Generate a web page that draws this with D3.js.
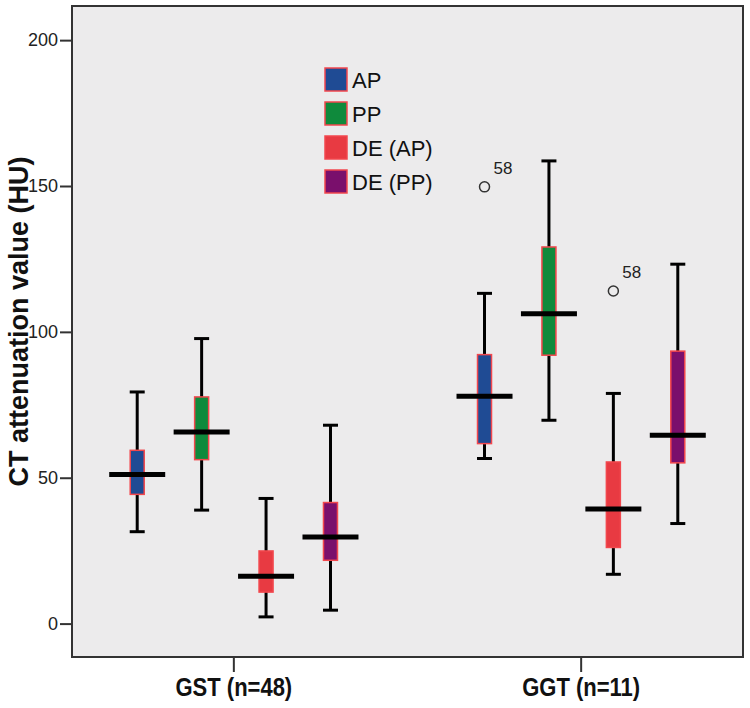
<!DOCTYPE html>
<html>
<head>
<meta charset="utf-8">
<script src="https://cdn.jsdelivr.net/npm/d3@7"></script>
<style>
  html, body { margin: 0; padding: 0; background: #ffffff; }
  svg { display: block; }
</style>
</head>
<body>
<svg id="chart" width="750" height="708"></svg>
<script>
// ---------- data ----------
const groups = ["GST (n=48)", "GGT (n=11)"];
const series = ["AP", "PP", "DE (AP)", "DE (PP)"];
const seriesColors = ["#1f4b94", "#0f8a3c", "#e83a42", "#7a0f6c"];
// per group: values for [AP, PP, DE (AP), DE (PP)]
const whiskerLow  = [[31.5, 38.9, 2.3, 4.6],   [56.6, 69.7, 16.9, 34.3]];
const q1          = [[44.3, 56.2, 10.8, 21.7], [61.7, 92.0, 26.1, 55.1]];
const medians     = [[51.1, 65.7, 16.2, 29.7], [77.9, 106.2, 39.3, 64.6]];
const q3          = [[59.4, 77.7, 24.9, 41.5], [92.2, 129.1, 55.4, 93.4]];
const whiskerHigh = [[79.4, 97.7, 42.9, 68.0], [113.2, 158.6, 78.9, 123.2]];
const outlierGroup  = ["GGT (n=11)", "GGT (n=11)"];
const outlierSeries = ["AP", "DE (AP)"];
const outlierValues = [149.7, 114.0];
const outlierLabels = ["58", "58"];
const yTicks = [0, 50, 100, 150, 200];
const yTitle = "CT attenuation value (HU)";

// ---------- layout ----------
const W = 750, H = 708;
const margin = {top: 6, right: 7, bottom: 51, left: 72};
const svg = d3.select("#chart");

const x0 = d3.scaleBand().domain(groups)
  .range([margin.left, W - margin.right])
  .paddingInner(0.258).paddingOuter(0.095);
const x1 = d3.scaleBand().domain(series).range([0, x0.bandwidth()]).padding(0);
const y = d3.scaleLinear().domain([-11.45, 211.7]).range([H - margin.bottom, margin.top]);
const color = d3.scaleOrdinal().domain(series).range(seriesColors);

// plot background
svg.append("rect")
  .attr("x", margin.left).attr("y", margin.top)
  .attr("width", W - margin.left - margin.right)
  .attr("height", H - margin.top - margin.bottom)
  .attr("fill", "#ecebec");

// boxes
const boxW = 14, capW = 15, medW = 56;
const rows = [];
groups.forEach((g, gi) => series.forEach((s, si) => rows.push({
  g, s, lo: whiskerLow[gi][si], q1: q1[gi][si], med: medians[gi][si],
  q3: q3[gi][si], hi: whiskerHigh[gi][si]
})));
const cx = d => x0(d.g) + x1(d.s) + x1.bandwidth() / 2;

const box = svg.append("g").selectAll("g").data(rows).join("g");
box.append("line")
  .attr("x1", cx).attr("x2", cx)
  .attr("y1", d => y(d.lo)).attr("y2", d => y(d.hi))
  .attr("stroke", "#000").attr("stroke-width", 3);
box.append("line")
  .attr("x1", d => cx(d) - capW / 2).attr("x2", d => cx(d) + capW / 2)
  .attr("y1", d => y(d.hi)).attr("y2", d => y(d.hi))
  .attr("stroke", "#000").attr("stroke-width", 3);
box.append("line")
  .attr("x1", d => cx(d) - capW / 2).attr("x2", d => cx(d) + capW / 2)
  .attr("y1", d => y(d.lo)).attr("y2", d => y(d.lo))
  .attr("stroke", "#000").attr("stroke-width", 3);
box.append("rect")
  .attr("x", d => cx(d) - boxW / 2).attr("width", boxW)
  .attr("y", d => y(d.q3)).attr("height", d => y(d.q1) - y(d.q3))
  .attr("fill", d => color(d.s))
  .attr("stroke", "#f2474d").attr("stroke-width", 1.5);
box.append("line")
  .attr("x1", d => cx(d) - medW / 2).attr("x2", d => cx(d) + medW / 2)
  .attr("y1", d => y(d.med)).attr("y2", d => y(d.med))
  .attr("stroke", "#000").attr("stroke-width", 5);

// outliers
const outs = outlierValues.map((v, i) => ({g: outlierGroup[i], s: outlierSeries[i], v, label: outlierLabels[i]}));
const og = svg.append("g").selectAll("g").data(outs).join("g");
og.append("circle")
  .attr("cx", cx).attr("cy", d => y(d.v)).attr("r", 5)
  .attr("fill", "none").attr("stroke", "#333").attr("stroke-width", 1.5);
og.append("text")
  .attr("x", d => cx(d) + 9).attr("y", d => y(d.v) - 13)
  .attr("font-family", "'Liberation Sans', Arial, sans-serif")
  .attr("font-size", 17).attr("fill", "#222")
  .text(d => d.label);

// frame
svg.append("rect")
  .attr("x", margin.left).attr("y", margin.top)
  .attr("width", W - margin.left - margin.right)
  .attr("height", H - margin.top - margin.bottom)
  .attr("fill", "none").attr("stroke", "#333").attr("stroke-width", 2);

// y axis
const yAxis = svg.append("g")
  .attr("transform", `translate(${margin.left},0)`)
  .call(d3.axisLeft(y).tickValues(yTicks).tickSize(12).tickPadding(2).tickFormat(d3.format("d")));
yAxis.select(".domain").remove();
yAxis.selectAll(".tick line").attr("stroke", "#333").attr("stroke-width", 2);
yAxis.selectAll(".tick text")
  .attr("font-family", "'Liberation Sans', Arial, sans-serif")
  .attr("font-size", 18).attr("fill", "#222");

// x axis
const xAxis = svg.append("g")
  .attr("transform", `translate(0,${H - margin.bottom})`)
  .call(d3.axisBottom(x0).tickSize(15).tickPadding(6));
xAxis.select(".domain").remove();
xAxis.selectAll(".tick line").attr("stroke", "#333").attr("stroke-width", 2);
xAxis.selectAll(".tick text")
  .attr("font-family", "'Liberation Sans', Arial, sans-serif")
  .attr("font-weight", "bold")
  .attr("font-size", 25).attr("fill", "#111")
  .attr("transform", "scale(0.88,1)");

// y title
svg.append("text")
  .attr("transform", `translate(28,${(y(-11.45) + y(211.7)) / 2 - 10}) rotate(-90)`)
  .attr("text-anchor", "middle")
  .attr("font-family", "'Liberation Sans', Arial, sans-serif")
  .attr("font-weight", "bold").attr("font-size", 27).attr("fill", "#111")
  .text(yTitle);

// legend
const lg = svg.append("g").selectAll("g").data(series).join("g")
  .attr("transform", (d, i) => `translate(325,${68 + i * 34})`);
lg.append("rect")
  .attr("width", 22).attr("height", 23)
  .attr("fill", d => color(d))
  .attr("stroke", "#f2474d").attr("stroke-width", 1.5);
lg.append("text")
  .attr("x", 27).attr("y", 20)
  .attr("font-family", "'Liberation Sans', Arial, sans-serif")
  .attr("font-size", 22).attr("fill", "#111")
  .text(d => d);
</script>
</body>
</html>
